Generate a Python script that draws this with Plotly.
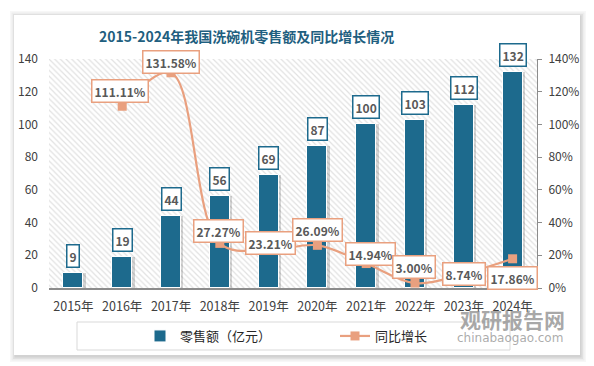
import plotly.graph_objects as go

years = ["2015年", "2016年", "2017年", "2018年", "2019年", "2020年", "2021年", "2022年", "2023年", "2024年"]
sales = [9, 19, 44, 56, 69, 87, 100, 103, 112, 132]
growth = [None, 111.11, 131.58, 27.27, 23.21, 26.09, 14.94, 3.00, 8.74, 17.86]
growth_labels = ["", "111.11%", "131.58%", "27.27%", "23.21%", "26.09%", "14.94%", "3.00%", "8.74%", "17.86%"]
# label offsets (px) relative to the line points
label_dx = [0, -2, 0, -1, 2, 0, 4, -1, 0, 0]
label_dy = [0, 15, 11, 12, 7, 15, 10, 16, 0, -19]

O = 8  # page body margin offset
W, H = 594 - O, 366 - O
L, R, T, B = 49, 537, 59, 288   # plot area in window pixels

def px(x):
    return (x - L) / (R - L)

def py(y):
    return (B - y) / (B - T)

BAR = "#1D6A8D"
ORANGE = "#E9A07F"
TXT = "#404040"
LBL = "#595959"
FONT = "Noto Sans CJK SC"

fig = go.Figure()

# hatched plot background
fig.add_trace(go.Bar(
    x=years, y=[140] * len(years), width=1, yaxis="y",
    marker=dict(color="white", line=dict(width=0),
                pattern=dict(shape="\\", fgcolor="#c4c4c4", bgcolor="white", size=4, solidity=0.3)),
    showlegend=False, hoverinfo="skip"))

# bar shadow
fig.add_trace(go.Bar(
    x=years, y=sales, width=0.41, offset=-0.205 + 0.05, yaxis="y",
    marker=dict(color="rgba(0,0,0,0.16)", line=dict(width=0)),
    showlegend=False, hoverinfo="skip"))

fig.add_trace(go.Bar(
    x=years, y=sales, width=0.41, offset=-0.205, name="零售额（亿元）", yaxis="y",
    marker=dict(color=BAR, line=dict(color="white", width=1))))

fig.add_trace(go.Scatter(
    x=years, y=[g / 100 if g is not None else None for g in growth], name="同比增长", yaxis="y2",
    mode="lines+markers", line=dict(color=ORANGE, width=2.2, shape="spline", smoothing=1),
    marker=dict(symbol="square", size=9, color=ORANGE)))

annotations = []
for yr, v in zip(years, sales):
    annotations.append(dict(
        x=yr, y=v, xref="x", yref="y", text=f"<b>{v}</b>", showarrow=False,
        xanchor="center", yanchor="middle",
        yshift=17, font=dict(family=FONT, size=12, color=LBL),
        bgcolor="white", bordercolor=BAR, borderwidth=1.5, borderpad=2))

for yr, g, t, dx, dy in zip(years, growth, growth_labels, label_dx, label_dy):
    if g is None:
        continue
    annotations.append(dict(
        x=yr, y=g / 100, xref="x", yref="y2", text=f"<b>{t}</b>", showarrow=False,
        xanchor="center", yanchor="middle",
        xshift=dx, yshift=dy, font=dict(family=FONT, size=12, color=LBL),
        bgcolor="white", bordercolor=ORANGE, borderwidth=1.5, borderpad=2))

# title
annotations.append(dict(
    x=px(246), y=py(36), xref="paper", yref="paper", showarrow=False,
    xanchor="center", yanchor="middle",
    text="<b>2015-2024年我国洗碗机零售额及同比增长情况</b>",
    font=dict(family="Noto Sans CJK SC", size=14, color="#1F5F80")))

# watermark
annotations.append(dict(
    x=px(512), y=py(319), xref="paper", yref="paper", showarrow=False,
    xanchor="center", yanchor="middle",
    text="<b>观研报告网</b>", font=dict(family=FONT, size=21, color="rgba(140,140,140,0.75)")))
annotations.append(dict(
    x=px(510), y=py(338), xref="paper", yref="paper", showarrow=False,
    xanchor="center", yanchor="middle",
    text="chinabaogao.com", font=dict(family="DejaVu Sans", size=12, color="rgba(150,150,150,0.8)")))

shapes = []
# card shadow
for i, a in enumerate([0.03, 0.04, 0.05, 0.06]):
    d = 6 - i * 1.5
    shapes.append(dict(type="rect", xref="paper", yref="paper", layer="below",
                       x0=px(14 - d + 2), x1=px(580 + d), y0=py(355 + d + 1), y1=py(15 - d + 2),
                       fillcolor=f"rgba(0,0,0,{a})", line=dict(width=0)))
shapes.append(dict(type="rect", xref="paper", yref="paper", layer="below",
                   x0=px(14), x1=px(580), y0=py(355), y1=py(15),
                   fillcolor="white", line=dict(width=0)))
# legend box
shapes.append(dict(type="rect", xref="paper", yref="paper", layer="above",
                   x0=px(77), x1=px(510), y0=py(322), y1=py(350),
                   fillcolor="rgba(0,0,0,0)", line=dict(color="#d9d9d9", width=1)))

fig.update_layout(
    width=W, height=H,
    margin=dict(l=L - O, r=594 - R, t=T - O, b=366 - B, autoexpand=False),
    paper_bgcolor="white", plot_bgcolor="rgba(0,0,0,0)",
    barmode="overlay", bargap=0,
    font=dict(family=FONT, size=12, color=TXT),
    showlegend=True,
    legend=dict(orientation="h", x=px(335), xanchor="center", y=py(336), yanchor="middle",
                bgcolor="rgba(0,0,0,0)", font=dict(family=FONT, size=13, color="#262626"),
                entrywidth=150, traceorder="normal"),
    xaxis=dict(type="category", showgrid=False, showline=True, linecolor="#8c8c8c", linewidth=1.5,
               ticks="", tickfont=dict(family=FONT, size=12.5, color=TXT), ticklabelstandoff=6,
               range=[-0.5, 9.5], automargin=False),
    yaxis=dict(range=[0, 140], dtick=20, showgrid=False, zeroline=False, showline=False,
               ticks="", tickfont=dict(family=FONT, size=12, color=TXT), ticklabelstandoff=10,
               automargin=False),
    yaxis2=dict(range=[0, 1.4], dtick=0.2, tickformat=".0%", overlaying="y", side="right",
                showgrid=False, zeroline=False, showline=True, linecolor="#8c8c8c", linewidth=1,
                ticks="outside", ticklen=4, tickcolor="#8c8c8c",
                tickfont=dict(family=FONT, size=12, color=TXT), ticklabelstandoff=4,
                automargin=False),
    annotations=annotations, shapes=shapes,
)

fig.write_html("out.html")
